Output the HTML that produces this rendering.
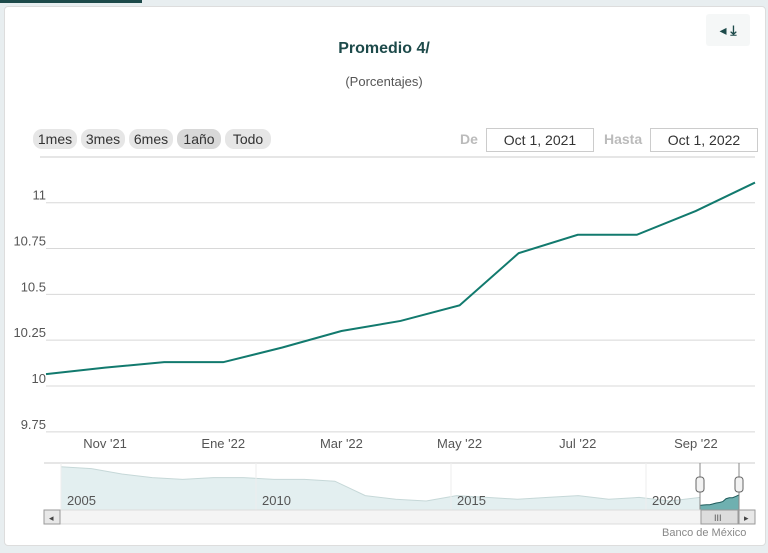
<!DOCTYPE html>
<html><head><meta charset="utf-8"><style>
body{margin:0;width:768px;height:553px;background:#e8eef0;font-family:"Liberation Sans",sans-serif;overflow:hidden;position:relative}
.card{position:absolute;left:4px;top:6px;width:760px;height:538px;background:#fff;border:1px solid #ddd;border-radius:4px}
.topbar{position:absolute;left:0;top:0;width:142px;height:3px;background:#1d4a4a}
.btn{position:absolute;top:129px;height:20px;background:#e6e6e6;border-radius:9px;font-size:14px;color:#333;line-height:20px;text-align:center}
.inp{position:absolute;top:128px;height:22px;border:1px solid #ccc;font-size:14px;color:#333;line-height:22px;text-align:center;background:#fff}
</style></head><body>
<div class="topbar"></div>
<div class="card"></div>
<div style="position:absolute;left:706px;top:14px;width:44px;height:32px;background:#f5f7f7;border-radius:3px;font-size:14px;color:#1d4a4a;line-height:32px;text-align:center">◂ <b>⤓</b></div>
<div style="position:absolute;left:0;width:768px;top:40px;text-align:center;font-size:16px;font-weight:bold;color:#1d4a4a">Promedio 4/</div>
<div style="position:absolute;left:0;width:768px;top:74px;text-align:center;font-size:13px;color:#555">(Porcentajes)</div>
<div class="btn" style="left:33px;width:44px">1mes</div>
<div class="btn" style="left:81px;width:44px">3mes</div>
<div class="btn" style="left:129px;width:44px">6mes</div>
<div class="btn" style="left:177px;width:44px;background:#d8d8d8">1año</div>
<div class="btn" style="left:225px;width:46px">Todo</div>
<div style="position:absolute;left:460px;top:131px;font-size:14px;color:#bbb;font-weight:bold">De</div>
<div class="inp" style="left:486px;width:106px">Oct 1, 2021</div>
<div style="position:absolute;left:604px;top:131px;font-size:14px;color:#bbb;font-weight:bold">Hasta</div>
<div class="inp" style="left:650px;width:106px">Oct 1, 2022</div>
<svg id="chart" width="768" height="553" style="position:absolute;left:0;top:0"></svg>
<div style="position:absolute;left:662px;top:527px;font-size:11px;color:#888">Banco de México</div>
<script>
const yTicks=[9.75,10,10.25,10.5,10.75,11];
const yTickLabels=["9.75","10","10.25","10.5","10.75","11"];
const months=["Oct21","Nov21","Dic21","Ene22","Feb22","Mar22","Abr22","May22","Jun22","Jul22","Ago22","Sep22","Oct22"];
const values=[10.065,10.10,10.13,10.13,10.21,10.30,10.355,10.44,10.725,10.825,10.825,10.955,11.11];
const xTickIdx=[1,3,5,7,9,11];
const xTickLabels=["Nov '21","Ene '22","Mar '22","May '22","Jul '22","Sep '22"];
const navYears=[2005,2010,2015,2020];
const navValues=[10.9,10.8,10.5,10.3,10.2,10.3,10.3,10.2,10.2,10.1,9.3,9.1,9.0,9.3,9.2,9.1,9.2,9.3,9.1,9.2,9.0,9.2];
const NS="http://www.w3.org/2000/svg";
const svg=document.getElementById('chart');
function el(t,a,p){const e=document.createElementNS(NS,t);for(const k in a)e.setAttribute(k,a[k]);(p||svg).appendChild(e);return e;}
const X0=46,X1=755,Y0=386,PX=183.3;
const xs=i=>X0+(X1-X0)*i/(months.length-1);
const ys=v=>Y0-(v-10)*PX;
el('line',{x1:40,x2:755,y1:157,y2:157,stroke:'#ccc'});
yTicks.forEach((t,i)=>{
 const g=el('line',{x1:X0,x2:X1,y1:ys(t),y2:ys(t),stroke:'#d8d8d8'});
 
 const tx=el('text',{x:X0,y:ys(t)-3,'text-anchor':'end','font-size':13,fill:'#555','font-family':'Liberation Sans'});
 tx.textContent=yTickLabels[i];
 
});
xTickIdx.forEach((m,i)=>{
 const tx=el('text',{x:xs(m),y:448,'text-anchor':'middle','font-size':13,fill:'#555','font-family':'Liberation Sans'});
 tx.textContent=xTickLabels[i];
 
});
const line=el('path',{d:values.map((v,i)=>(i?'L':'M')+xs(i)+','+ys(v)).join(''),fill:'none',stroke:'#127a6e','stroke-width':2});

const NX0=61,NX1=700,NYb=510;
el('line',{x1:44,x2:755,y1:463,y2:463,stroke:'#ccc'});
const nx=i=>NX0+(NX1-NX0)*i/(navValues.length-1);
const ny=v=>NYb-(v-8.5)*18;
const nav=el('path',{d:'M'+NX0+','+NYb+navValues.map((v,i)=>'L'+nx(i)+','+ny(v)).join('')+'L'+NX1+','+NYb+'Z',fill:'#e3eff0',stroke:'#c6d8d8'});

const sel=el('path',{d:'M700,510 L700,496 '+values.map((v,i)=>'L'+(700+39*i/12)+','+(506-(v-10)*10)).join(' ')+' L739,510Z',fill:'#6fb0b0',stroke:'#1d5a5a'});

el('line',{x1:700,x2:700,y1:463,y2:510,stroke:'#888'});el('line',{x1:739,x2:739,y1:463,y2:510,stroke:'#888'});
[700,739].forEach(x=>{const h=el('rect',{x:x-4,y:477,width:8,height:15,rx:3,fill:'#f2f2f2',stroke:'#666'});});
navYears.forEach((yr,i)=>{const t=el('text',{x:67+195*i,y:505,'font-size':13,fill:'#555','font-family':'Liberation Sans'});t.textContent=yr;
 el('line',{x1:61+195*i,x2:61+195*i,y1:463,y2:510,stroke:'#eee'});});
const sb=el('rect',{x:44,y:510,width:711,height:14,fill:'#f4f4f4',stroke:'#ddd'});
el('rect',{x:44,y:510,width:16,height:14,fill:'#e8e8e8',stroke:'#999'});
el('text',{x:49,y:521,'font-size':9,fill:'#444'}).textContent='◂';
const th=el('rect',{x:701,y:510,width:37,height:14,fill:'#ddd',stroke:'#999'});
el('text',{x:714,y:521,'font-size':9,fill:'#555'}).textContent='III';
el('rect',{x:739,y:510,width:16,height:14,fill:'#e8e8e8',stroke:'#999'});
el('text',{x:744,y:521,'font-size':9,fill:'#444'}).textContent='▸';
</script>
</body></html>
